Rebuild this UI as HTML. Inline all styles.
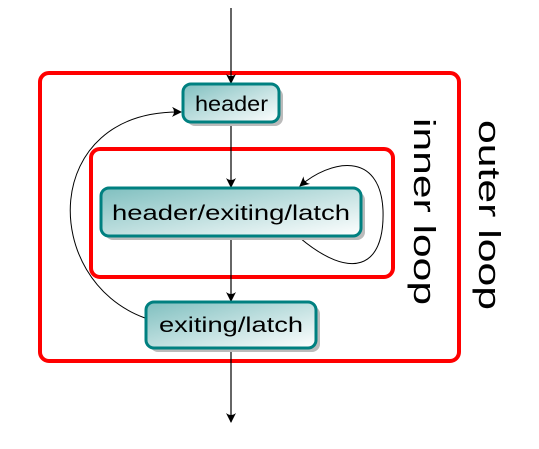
<!DOCTYPE html>
<html><head><style>body{margin:0;background:#fff}</style></head><body>
<svg width="539" height="444" viewBox="0 0 539 444" xmlns="http://www.w3.org/2000/svg" font-family="Liberation Sans, sans-serif">
<defs>
<linearGradient id="g" x1="0" y1="0" x2="1" y2="1"><stop offset="0" stop-color="#7fbfbf"/><stop offset="1" stop-color="#ffffff"/></linearGradient>
<marker id="a" markerWidth="10" markerHeight="10" refX="9" refY="5" orient="auto" markerUnits="userSpaceOnUse"><path d="M0,0 Q4,5 0,10 L10,5 Z" fill="#000"/></marker>
</defs>
<rect x="40" y="73" width="419" height="288" rx="9" fill="none" stroke="#f00" stroke-width="4"/>
<rect x="91" y="149" width="302" height="128" rx="9" fill="none" stroke="#f00" stroke-width="4"/>
<line x1="231" y1="8" x2="231" y2="83" stroke="#000" stroke-width="1.2" marker-end="url(#a)"/>
<line x1="231" y1="123" x2="231" y2="187" stroke="#000" stroke-width="1.2" marker-end="url(#a)"/>
<line x1="231" y1="238" x2="231" y2="301" stroke="#000" stroke-width="1.2" marker-end="url(#a)"/>
<line x1="231" y1="349" x2="231" y2="422" stroke="#000" stroke-width="1.2" marker-end="url(#a)"/>
<path d="M145,318 C40,280 40,110 181,112" fill="none" stroke="#000" stroke-width="1" marker-end="url(#a)"/>
<path d="M300,238 C350,280 385,270 383,210 C380,150 330,160 300,186" fill="none" stroke="#000" stroke-width="1" marker-end="url(#a)"/>
<g>
<rect x="187" y="88" width="96" height="38" rx="8" fill="#bbb"/>
<rect x="183" y="84" width="96" height="38" rx="8" fill="url(#g)" stroke="#008080" stroke-width="3"/>
<text x="195" y="111" font-size="21" textLength="73" lengthAdjust="spacingAndGlyphs">header</text>
<rect x="105" y="192" width="260" height="48" rx="8" fill="#bbb"/>
<rect x="101" y="188" width="260" height="48" rx="8" fill="url(#g)" stroke="#008080" stroke-width="3"/>
<text x="112" y="220" font-size="21" textLength="238" lengthAdjust="spacingAndGlyphs">header/exiting/latch</text>
<rect x="150" y="306" width="170" height="46" rx="8" fill="#bbb"/>
<rect x="146" y="302" width="170" height="46" rx="8" fill="url(#g)" stroke="#008080" stroke-width="3"/>
<text x="159" y="332" font-size="21" textLength="144" lengthAdjust="spacingAndGlyphs">exiting/latch</text>
</g>
<text transform="translate(479,120) rotate(90)" font-size="31" textLength="190" lengthAdjust="spacingAndGlyphs">outer loop</text>
<text transform="translate(414,118) rotate(90)" font-size="31" textLength="187" lengthAdjust="spacingAndGlyphs">inner loop</text>
</svg>
</body></html>
